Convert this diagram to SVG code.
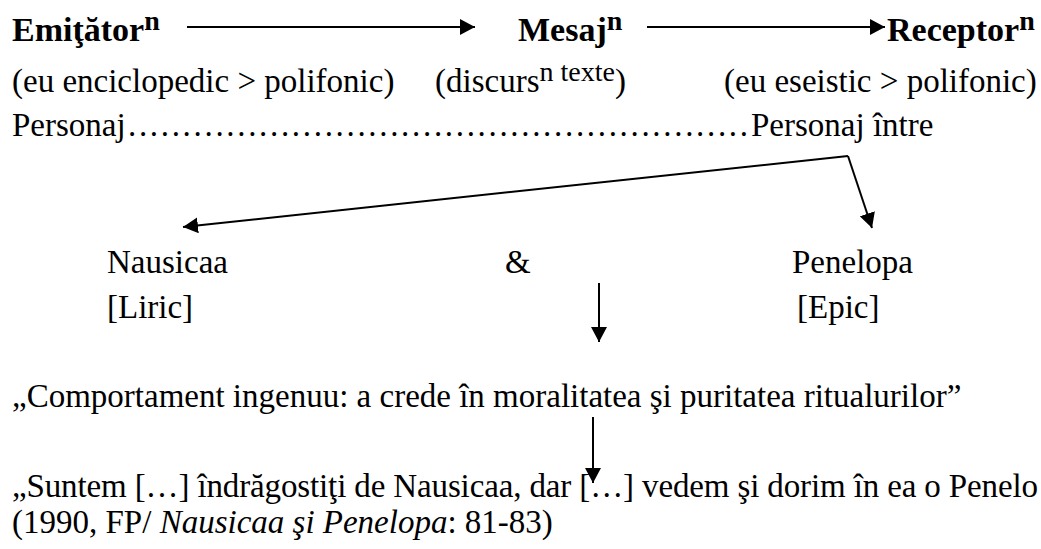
<svg xmlns="http://www.w3.org/2000/svg" width="1041" height="549" viewBox="0 0 1041 549">
<style>
text{fill:#000;font-size:33px}
.b{font-weight:bold;font-size:34px}
.sb{font-size:28px}
.ss{font-size:28px}
.it{font-style:italic}
.c{fill:none;stroke:#000;stroke-width:2}
</style>
<defs>
<marker id="ah" viewBox="0 0 15 16" refX="15" refY="8" markerUnits="userSpaceOnUse" markerWidth="15" markerHeight="16" orient="auto"><path d="M0,0 L15,8 L0,16 z" fill="#000"/></marker>
</defs>
<rect width="1041" height="549" fill="#fff"/>
<g id="connectors">
<line class="c" x1="187" y1="27" x2="475" y2="27" marker-end="url(#ah)"/>
<line class="c" x1="647" y1="27" x2="885" y2="27" marker-end="url(#ah)"/>
<line class="c" x1="848" y1="156" x2="183" y2="227" marker-end="url(#ah)"/>
<line class="c" x1="848" y1="156" x2="872" y2="228" marker-end="url(#ah)"/>
<line class="c" x1="599" y1="283" x2="599" y2="342" marker-end="url(#ah)"/>
<line class="c" x1="593" y1="417" x2="593" y2="483" marker-end="url(#ah)"/>
</g>
<g font-family="'Liberation Serif', 'DejaVu Serif', serif">
<g id="emitator"><text class="b" x="12" y="41">Emiţător<tspan class="sb" dy="-11">n</tspan></text></g>
<g id="mesaj"><text class="b" x="518" y="41">Mesaj<tspan class="sb" dy="-11">n</tspan></text></g>
<g id="receptor"><text class="b" x="887" y="41">Receptor<tspan class="sb" dy="-11">n</tspan></text></g>
<g id="row2">
<text x="12" y="92">(eu enciclopedic &gt; polifonic)</text>
<text x="435" y="92">(discurs<tspan class="ss" dy="-11">n texte</tspan><tspan dy="11">)</tspan></text>
<text x="724" y="92">(eu eseistic &gt; polifonic)</text>
</g>
<g id="personaj">
<text x="12" y="136">Personaj</text>
<text x="128" y="136" textLength="620" lengthAdjust="spacing">.........................................................</text>
<text x="751" y="136">Personaj între</text>
</g>
<g id="nausicaa"><text x="107" y="273">Nausicaa</text><text x="107" y="318">[Liric]</text></g>
<g id="amp"><text x="505" y="273">&amp;</text></g>
<g id="penelopa"><text x="792" y="273">Penelopa</text><text x="797" y="318">[Epic]</text></g>
<g id="comportament"><text x="12" y="407">„Comportament ingenuu: a crede în moralitatea şi puritatea ritualurilor”</text></g>
<g id="citat">
<text x="12" y="497" textLength="1026" lengthAdjust="spacing">„Suntem […] îndrăgostiţi de Nausicaa, dar […] vedem şi dorim în ea o Penelo</text>
<text x="12" y="533">(1990, FP/ <tspan class="it">Nausicaa şi Penelopa</tspan>: 81-83)</text>
</g>
</g>
</svg>
